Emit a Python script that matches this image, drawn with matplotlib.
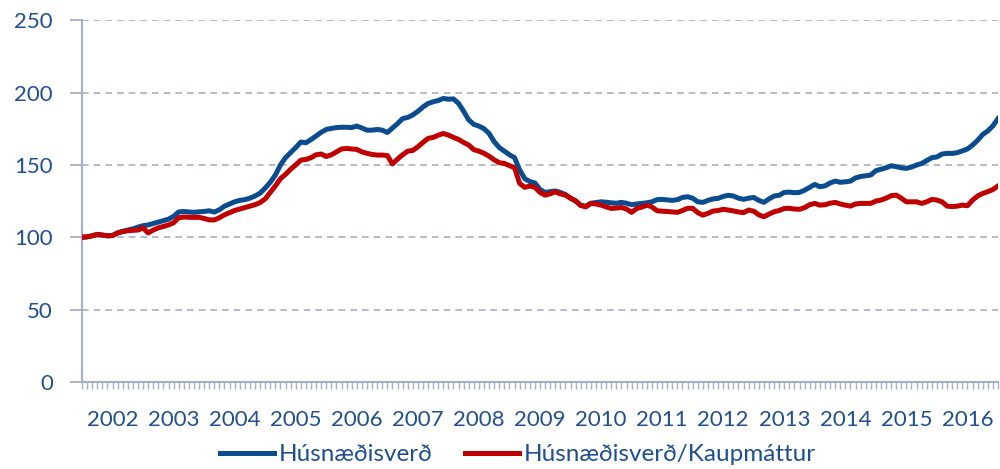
import matplotlib
matplotlib.use("Agg")
import matplotlib.pyplot as plt
import numpy as np

# monthly index, Jan 2002 = 100
husnaedisverd = [
    100, 100.3, 101, 102, 101.5, 101, 101.2, 103, 104, 105, 105.8, 107,
    108, 108.5, 109.5, 110.5, 111.5, 112.5, 114.5, 117.5, 117.8, 117.5, 117.2, 117.6,
    117.8, 118.3, 117.4, 119, 121.5, 123, 124.5, 125.5, 126, 127, 128.5, 130.5,
    134, 138, 143, 150, 155, 158.5, 162, 165.8, 165.3, 167.5, 170, 172.5,
    174.5, 175.2, 175.8, 176, 176, 175.8, 176.8, 175.5, 174, 174, 174.5, 174,
    172.4, 175.5, 178.5, 182, 182.8, 184.5, 187, 190, 192.4, 193.6, 194.5, 195.9,
    195.4, 195.6, 192.5, 187, 181, 178, 176.8, 175, 171.7, 166, 162, 159.5,
    157, 155, 146.5, 140.5, 138.5, 137.5, 133, 131, 131.5, 132, 131, 129.5,
    127, 125, 122, 121.5, 123.5, 124, 124.5, 124.2, 123.8, 123.5, 124.1, 123.5,
    122.5, 123, 123.4, 123.8, 124.5, 126, 126.2, 125.8, 125.5, 126, 127.5, 128,
    127, 124.5, 124.1, 125.5, 126.5, 126.9, 128.2, 129, 128.5, 127, 126.2, 127,
    127.5, 125.5, 124.1, 126.5, 128.5, 129, 131, 131.2, 130.8, 131, 132.5, 134.5,
    136.5, 134.9, 135.5, 137.5, 138.8, 138, 138.3, 138.8, 141, 142, 142.5, 143,
    146, 147, 148, 149.4, 148.8, 148, 147.6, 148.5, 149.9, 151, 153, 155,
    155.5, 157.5, 158, 157.9, 158.5, 159.7, 161, 163.7, 167, 171, 173.5, 177,
    182,
]
kaupmattur = [
    100, 100.3, 101, 102, 101.5, 101, 101.2, 103, 104, 104.5, 104.8, 105,
    106.5, 103, 105, 106.5, 107.5, 108.5, 110, 113.5, 114, 113.8, 113.7, 113.8,
    113, 112, 112, 113.5, 115.5, 117, 118.5, 119.5, 120.5, 121.5, 122.5, 124,
    126.5, 131, 135.5, 140.5, 143.5, 147, 150, 153.3, 153.8, 155, 157, 157.5,
    155.8, 157, 159, 161, 161.4, 161, 160.7, 159, 158, 157.2, 156.8, 156.8,
    156.5, 150.6, 154, 157, 159.5, 160, 162.5, 165.5, 168.3, 169, 170.5, 171.7,
    170.6, 169, 167.6, 165.5, 163.7, 160.5, 159.5, 158, 156, 153.5, 151.5, 151,
    149.5, 148, 137.2, 134.5, 135.4, 134.5, 131, 129.1, 130, 131.4, 130, 129.1,
    127, 125.2, 122, 121, 123.4, 123, 122.2, 121, 119.9, 120.2, 120.6, 119.5,
    117.2, 119.9, 120.8, 122.2, 121, 118.3, 118, 117.8, 117.5, 117.2, 118.5, 120,
    120, 117, 115.3, 116.5, 118.1, 118.5, 119.3, 118.8, 118.2, 117.5, 117, 118.8,
    118, 115.5, 114.2, 116, 117.6, 118.5, 119.9, 120, 119.5, 119.3, 120.5, 122.5,
    123.4, 122.2, 122.5, 123.5, 124.1, 123, 122.2, 121.5, 123, 123.4, 123.4, 123.4,
    125, 125.7, 127, 128.7, 129.1, 127, 124.5, 124.5, 124.5, 123.4, 124.5, 126.2,
    125.7, 124.5, 121.5, 121.2, 121.5, 122.2, 121.8, 125.7, 128.5, 130.3, 131.5, 133,
    135.4,
]
years = [str(y) for y in range(2002, 2017)]
legend_labels = ["Húsnæðisverð", "Húsnæðisverð/Kaupmáttur"]

blue = "#0a4c8e"
red = "#c00000"
txt = "#1f4f8f"
axc = "#a9aec8"

plt.rcParams['font.family'] = ['Lato', 'DejaVu Sans']

fig = plt.figure(figsize=(10, 4.69), dpi=100)
ax = fig.add_axes([0.082, 0.1855, 0.916, 0.7715])

m = np.arange(len(husnaedisverd))
ax.plot(m, husnaedisverd, color=blue, lw=3.6, solid_joinstyle='round', label=legend_labels[0], zorder=3)
ax.plot(m, kaupmattur, color=red, lw=3.6, solid_joinstyle='round', label=legend_labels[1], zorder=3)

ax.set_ylim(0, 250)
ax.set_xlim(0, len(m) - 1)
ax.set_yticks(range(0, 251, 50))
ax.yaxis.grid(True, color=axc, lw=1.2, linestyle=(0, (4, 3)))
ax.set_axisbelow(True)

ax.xaxis.remove_overlapping_locs = False
ax.set_xticks(range(0, len(m)))
ax.set_xticklabels([])
ax.set_xticks([12 * i + 6 for i in range(len(years))], years, minor=True)
ax.tick_params(axis='x', which='major', length=5, width=1, color=axc, direction='out')
ax.tick_params(axis='x', which='minor', length=0, pad=20, labelsize=16, labelcolor=txt)
ax.tick_params(axis='y', length=9, width=1.3, color=axc, pad=12, labelsize=16, labelcolor=txt)

for s in ['top', 'right']:
    ax.spines[s].set_visible(False)
for s in ['left', 'bottom']:
    ax.spines[s].set_color(axc)
    ax.spines[s].set_linewidth(1.5)

fig.legend(loc='center', bbox_to_anchor=(0.518, 0.03), ncol=2, frameon=False,
           fontsize=17.5, labelcolor=txt, handlelength=2.2, handletextpad=0.2,
           columnspacing=1.35, borderpad=0)

fig.savefig("out.png", dpi=100)
